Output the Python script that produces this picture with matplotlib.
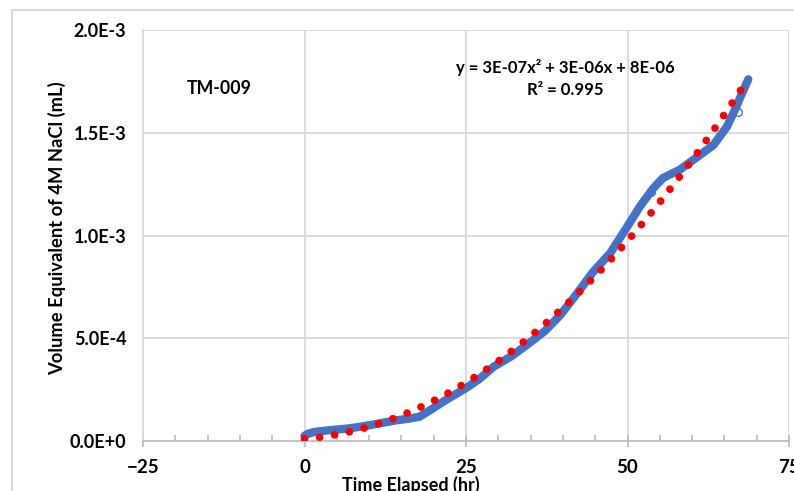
import numpy as np
import matplotlib
matplotlib.use("Agg")
import matplotlib.pyplot as plt
from matplotlib.lines import Line2D
from matplotlib.ticker import MultipleLocator

# ---- data ----
time_hr = [0.0, 0.5, 1.5, 3.7, 6.5, 9.0, 11.5, 14.1, 16.0, 17.8, 19.3, 21.9,
           24.5, 25.5, 27.0, 29.3, 32.0, 34.4, 37.2, 39.6, 42.2, 44.7, 47.3,
           49.9, 51.9, 54.0, 55.5, 58.1, 60.7, 63.3, 65.4, 66.6, 67.7, 68.7]
volume_ml = [2.5e-5, 3.5e-5, 4.4e-5, 5.2e-5, 6.0e-5, 7.1e-5, 8.5e-5, 1.0e-4,
             1.08e-4, 1.18e-4, 1.47e-4, 2.0e-4, 2.48e-4, 2.68e-4, 3.0e-4,
             3.62e-4, 4.12e-4, 4.67e-4, 5.35e-4, 6.13e-4, 7.18e-4, 8.24e-4,
             9.13e-4, 1.04e-3, 1.14e-3, 1.23e-3, 1.28e-3, 1.32e-3, 1.38e-3,
             1.44e-3, 1.53e-3, 1.61e-3, 1.69e-3, 1.76e-3]
stray_time = [53.6, 67.1]
stray_volume = [1.212e-3, 1.60e-3]

x_ticks = [-25, 0, 25, 50, 75]
y_ticks = [0.0, 5e-4, 1e-3, 1.5e-3, 2e-3]
y_tick_labels = ["0.0E+0", "5.0E-4", "1.0E-3", "1.5E-3", "2.0E-3"]

sample_label = "TM-009"
equation_text = "y = 3E-07x² + 3E-06x + 8E-06"
r2_text = "R² = 0.995"

FONT = "Lato"
plt.rcParams['font.family'] = [FONT, 'DejaVu Sans']

W, H = 794, 491
fig = plt.figure(figsize=(W / 100, H / 100), dpi=100)
ax = fig.add_axes([143 / W, 1 - 441 / H, (789 - 143) / W, (441 - 30) / H])

grid_c = "#d9d9d9"
blue = "#4472C4"

# data band
ax.plot(time_hr, volume_ml, color=blue, lw=6.0, solid_capstyle='round',
        solid_joinstyle='round', zorder=3)
ax.plot(stray_time, stray_volume, linestyle='none', marker='o', ms=5.5,
        mfc='none', mec=blue, mew=1.0, zorder=3)

# polynomial trendline (order 2) fitted to the data, dotted red
coef = np.polyfit(time_hr, volume_ml, 2)
tt = np.linspace(time_hr[0], time_hr[-1], 500)
ax.plot(tt, np.polyval(coef, tt), color='#FF0000', lw=5.6,
        linestyle=(0, (0.001, 1.95)), dash_capstyle='round', zorder=4)

ax.set_xlim(-25, 75)
ax.set_ylim(0, 2e-3)
ax.set_xticks(x_ticks)
ax.set_yticks(y_ticks)
ax.set_yticklabels(y_tick_labels)
ax.xaxis.set_minor_locator(MultipleLocator(5))

for v in [0, 25, 50, 75]:
    ax.axvline(v, color=grid_c, lw=1.3, zorder=1)
for v in y_ticks[1:]:
    ax.axhline(v, color=grid_c, lw=1.3, zorder=1)

for s in ['top', 'right']:
    ax.spines[s].set_visible(False)
ax.spines['left'].set_color(grid_c)
ax.spines['left'].set_linewidth(1.3)
ax.spines['bottom'].set_color("#bfbfbf")
ax.spines['bottom'].set_linewidth(1.3)

ax.tick_params(axis='y', length=0, pad=12, labelsize=13)
ax.tick_params(axis='x', which='major', direction='inout', length=8,
               color="#bfbfbf", width=1.3, pad=9, labelsize=13.5)
ax.tick_params(axis='x', which='minor', direction='in', length=4,
               color="#bfbfbf", width=1.3)
for lab in ax.get_xticklabels() + ax.get_yticklabels():
    lab.set_fontweight('bold')

# texts
fig.text(219 / W, 1 - 89 / H, sample_label, ha='center', va='center',
         fontsize=12.8, fontweight='bold')
fig.text(565 / W, 1 - 68 / H, equation_text, ha='center', va='center',
         fontsize=12, fontweight='bold')
fig.text(565 / W, 1 - 90 / H, r2_text, ha='center', va='center',
         fontsize=12, fontweight='bold')
fig.text(57 / W, 1 - 228 / H, "Volume Equivalent of 4M NaCl (mL)",
         rotation=90, ha='center', va='center', fontsize=13.2,
         fontweight='bold')
fig.text(411 / W, 1 - 476 / H, "Time Elapsed (hr)", ha='center', va='top',
         fontsize=13, fontweight='bold')

# chart-area border
fig.add_artist(Line2D([12 / W, 12 / W], [1 - 10 / H, 0], transform=fig.transFigure,
                      color=grid_c, lw=1.5))
fig.add_artist(Line2D([12 / W, 1.0], [1 - 10 / H, 1 - 10 / H],
                      transform=fig.transFigure, color=grid_c, lw=1.5))

fig.savefig("out.png", dpi=100)
